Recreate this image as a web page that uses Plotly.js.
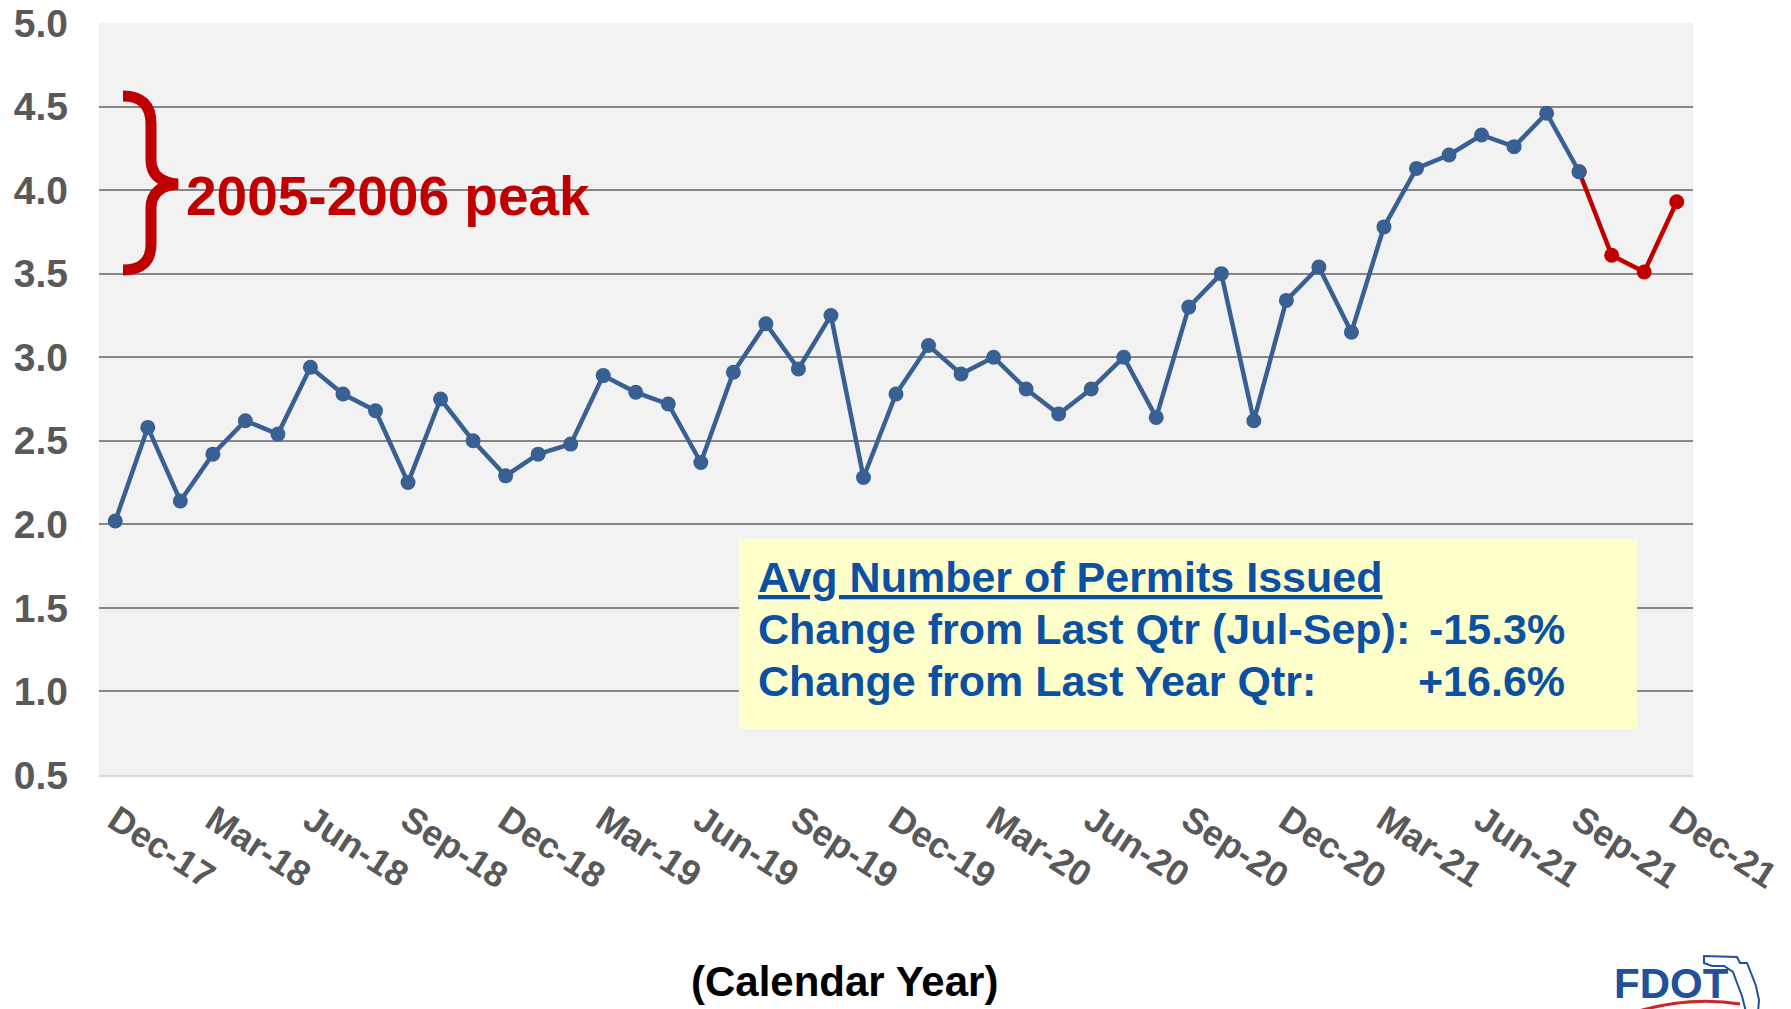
<!DOCTYPE html>
<html>
<head>
<meta charset="utf-8">
<script src="https://cdn.plot.ly/plotly-3.0.1.min.js"></script>
<style>
  html, body { margin: 0; padding: 0; background: #ffffff; }
  #chart { width: 1791px; height: 1009px; }
</style>
</head>
<body>
<div id="chart"></div>
<script>
// ---------- DATA ----------
var months = [
  "Dec-17","Jan-18","Feb-18","Mar-18","Apr-18","May-18","Jun-18","Jul-18","Aug-18","Sep-18","Oct-18","Nov-18",
  "Dec-18","Jan-19","Feb-19","Mar-19","Apr-19","May-19","Jun-19","Jul-19","Aug-19","Sep-19","Oct-19","Nov-19",
  "Dec-19","Jan-20","Feb-20","Mar-20","Apr-20","May-20","Jun-20","Jul-20","Aug-20","Sep-20","Oct-20","Nov-20",
  "Dec-20","Jan-21","Feb-21","Mar-21","Apr-21","May-21","Jun-21","Jul-21","Aug-21","Sep-21","Oct-21","Nov-21",
  "Dec-21"
];
var permits = [
  2.02, 2.58, 2.14, 2.42, 2.62, 2.54, 2.94, 2.78, 2.68, 2.25, 2.75, 2.50,
  2.29, 2.42, 2.48, 2.89, 2.79, 2.72, 2.37, 2.91, 3.20, 2.93, 3.25, 2.28,
  2.78, 3.07, 2.90, 3.00, 2.81, 2.66, 2.81, 3.00, 2.64, 3.30, 3.50, 2.62,
  3.34, 3.54, 3.15, 3.78, 4.13, 4.21, 4.33, 4.26, 4.46, 4.11, 3.61, 3.51,
  3.93
];
var lastBlueIndex = 45;           // Sep-21: last quarter shown in blue, red after it
var tickLabelStep = 3;            // one label per quarter
var peakLabel = "2005-2006 peak";
var boxTitle = "Avg Number of Permits Issued";
var boxLabels = ["Change from Last Qtr (Jul-Sep):", "Change from Last Year Qtr:"];
var boxValues = ["-15.3%", "+16.6%"];
var axisTitle = "(Calendar Year)";
var logoText = "FDOT";

// ---------- LAYOUT HELPERS ----------
var W = 1791, H = 1009;
var M = { l: 99, r: 98, t: 23, b: 234 };
var PW = W - M.l - M.r, PH = H - M.t - M.b;
function px(x) { return (x - M.l) / PW; }
function py(y) { return (H - M.b - y) / PH; }
function pt(x, y) { return px(x).toFixed(5) + "," + py(y).toFixed(5); }

var FONT = "Liberation Sans, Arial, Helvetica, sans-serif";
var BLUE = "#386093";
var RED = "#c00000";
var TXTBLUE = "#0b50a2";

var tickVals = months.filter(function (m, i) { return i % tickLabelStep === 0; });
var boundaryTicks = [];
for (var k = -0.5; k < months.length - 1; k += tickLabelStep) boundaryTicks.push(k);

var recentX = months.slice(lastBlueIndex);
var recentY = permits.slice(lastBlueIndex);
var blueX = months.slice(0, lastBlueIndex + 1);
var blueY = permits.slice(0, lastBlueIndex + 1);

var traces = [
  {
    type: "scatter", mode: "lines+markers",
    x: recentX, y: recentY,
    line: { color: RED, width: 4.5 },
    marker: { color: RED, size: 15 },
    hoverinfo: "x+y", showlegend: false
  },
  {
    type: "scatter", mode: "lines+markers",
    x: blueX, y: blueY,
    line: { color: BLUE, width: 4.5 },
    marker: { color: BLUE, size: 15 },
    hoverinfo: "x+y", showlegend: false
  }
];

// brace path (pixel positions converted to paper)
var bracePath = "M " + pt(123, 96) +
  " Q " + pt(151, 96) + " " + pt(151, 124) +
  " L " + pt(151, 160) +
  " Q " + pt(151, 182) + " " + pt(178, 184) +
  " Q " + pt(151, 186) + " " + pt(151, 208) +
  " L " + pt(151, 244) +
  " Q " + pt(151, 270) + " " + pt(123, 270);

var floridaPath = "M " + pt(1704, 956) + " L " + pt(1737, 957) + " L " + pt(1740, 963) +
  " L " + pt(1747, 963) + " L " + pt(1751, 973) + " L " + pt(1756, 986) + " L " + pt(1759, 1000) +
  " L " + pt(1758, 1012) + " L " + pt(1746, 1012) + " L " + pt(1742, 996) + " L " + pt(1737, 983) +
  " L " + pt(1733, 972) + " L " + pt(1724, 966) + " L " + pt(1712, 966) + " L " + pt(1704, 963) + " Z";

var swooshPath = "M " + pt(1635, 1012) + " Q " + pt(1690, 996) + " " + pt(1740, 1004);

var layout = {
  width: W, height: H,
  margin: M,
  paper_bgcolor: "#ffffff",
  plot_bgcolor: "#f2f2f2",
  font: { family: FONT },
  showlegend: false,
  xaxis: {
    type: "category",
    categoryorder: "array", categoryarray: months,
    range: [-0.5, months.length - 0.5],
    tickmode: "array", tickvals: tickVals, ticktext: tickVals,
    tickangle: 33,
    ticks: "",
    tickfont: { family: FONT, size: 36, color: "#595959", weight: "bold" },
    showgrid: false, zeroline: false,
    showline: true, linecolor: "#d9d9d9", linewidth: 2,
    ticklabelstandoff: 8,
    fixedrange: true
  },
  xaxis2: {
    type: "linear", overlaying: "x", anchor: "y", side: "bottom",
    range: [-0.5, months.length - 0.5],
    tickmode: "array", tickvals: boundaryTicks,
    ticks: "outside", ticklen: 11, tickwidth: 2, tickcolor: "#d9d9d9",
    showticklabels: false, showgrid: false, zeroline: false, showline: false,
    fixedrange: true
  },
  yaxis: {
    range: [0.5, 5.0],
    tick0: 0.5, dtick: 0.5, tickformat: ".1f",
    tickfont: { family: FONT, size: 39, color: "#595959", weight: "bold" },
    showgrid: true, gridcolor: "#868686", gridwidth: 2,
    zeroline: false, showline: false,
    ticks: "", ticklabelstandoff: 30,
    fixedrange: true
  },
  shapes: [
    { type: "rect", xref: "paper", yref: "paper",
      x0: px(739), x1: px(1637), y0: py(729), y1: py(539),
      fillcolor: "#ffffcc", line: { width: 0 }, layer: "above" },
    { type: "path", xref: "paper", yref: "paper", path: bracePath,
      line: { color: RED, width: 11 }, layer: "above" },
    { type: "path", xref: "paper", yref: "paper", path: floridaPath,
      line: { color: "#22509a", width: 2 }, fillcolor: "rgba(0,0,0,0)", layer: "above" },
    { type: "path", xref: "paper", yref: "paper", path: swooshPath,
      line: { color: "#d0242b", width: 3 }, layer: "above" }
  ],
  annotations: [
    { xref: "paper", yref: "paper", x: px(184), y: py(196), xanchor: "left", yanchor: "middle",
      text: peakLabel, showarrow: false,
      font: { family: FONT, size: 55, color: RED, weight: "bold" } },
    { xref: "paper", yref: "paper", x: px(756), y: py(577), xanchor: "left", yanchor: "middle",
      text: "<u>" + boxTitle + "</u>", showarrow: false,
      font: { family: FONT, size: 43, color: TXTBLUE, weight: "bold" } },
    { xref: "paper", yref: "paper", x: px(756), y: py(629), xanchor: "left", yanchor: "middle",
      text: boxLabels[0], showarrow: false,
      font: { family: FONT, size: 43, color: TXTBLUE, weight: "bold" } },
    { xref: "paper", yref: "paper", x: px(756), y: py(681), xanchor: "left", yanchor: "middle",
      text: boxLabels[1], showarrow: false,
      font: { family: FONT, size: 43, color: TXTBLUE, weight: "bold" } },
    { xref: "paper", yref: "paper", x: px(1567), y: py(629), xanchor: "right", yanchor: "middle",
      text: boxValues[0], showarrow: false,
      font: { family: FONT, size: 43, color: TXTBLUE, weight: "bold" } },
    { xref: "paper", yref: "paper", x: px(1567), y: py(681), xanchor: "right", yanchor: "middle",
      text: boxValues[1], showarrow: false,
      font: { family: FONT, size: 43, color: TXTBLUE, weight: "bold" } },
    { xref: "paper", yref: "paper", x: px(844), y: py(981), xanchor: "center", yanchor: "middle",
      text: axisTitle, showarrow: false,
      font: { family: FONT, size: 42, color: "#000000", weight: "bold" } },
    { xref: "paper", yref: "paper", x: px(1612), y: py(983), xanchor: "left", yanchor: "middle",
      text: logoText, showarrow: false,
      font: { family: FONT, size: 42, color: "#22509a", weight: "bold" } }
  ]
};

Plotly.newPlot("chart", traces, layout, { displayModeBar: false, staticPlot: true });
</script>
</body>
</html>
